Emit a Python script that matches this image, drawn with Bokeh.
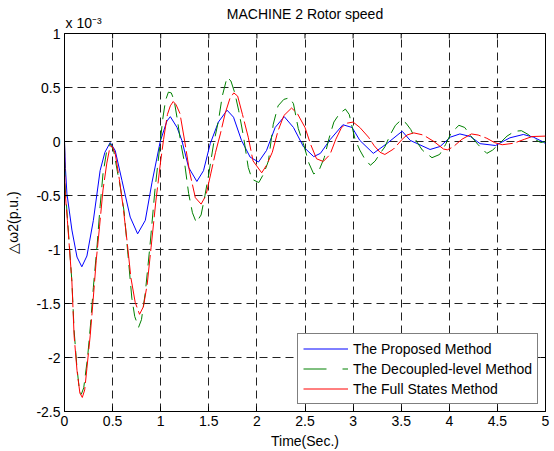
import math
from bokeh.plotting import figure
from bokeh.models import Range1d, FixedTicker, Legend, LegendItem, Title
from bokeh.embed import file_html
from bokeh.resources import INLINE

# ---- data (values in units of 1e-3 p.u.) ----
t_proposed = [0, 0.01, 0.025, 0.077, 0.13, 0.18, 0.233, 0.30, 0.37, 0.42, 0.475, 0.527, 0.597, 0.683,
              0.76, 0.84, 0.91, 0.995, 1.065, 1.10, 1.17, 1.22, 1.29, 1.376, 1.445, 1.515, 1.60, 1.69,
              1.757, 1.84, 1.93, 2.017, 2.10, 2.19, 2.284, 2.38, 2.485, 2.59, 2.66, 2.76, 2.894, 2.99,
              3.07, 3.21, 3.35, 3.51, 3.594, 3.80, 3.905, 4.01, 4.11, 4.22, 4.32, 4.48, 4.63, 4.77,
              4.875, 4.98, 5.0]
w_proposed = [0, -0.25, -0.48, -0.82, -1.07, -1.16, -1.06, -0.73, -0.27, -0.10, -0.01, -0.083, -0.36, -0.70,
              -0.855, -0.73, -0.377, 0.0, 0.19, 0.23, 0.13, 0.01, -0.24, -0.37, -0.27, -0.02, 0.18, 0.29,
              0.225, 0.01, -0.145, -0.19, -0.083, 0.13, 0.23, 0.13, -0.05, -0.14, -0.11, 0.016, 0.155, 0.13,
              0.01, -0.11, -0.02, 0.095, 0.01, -0.074, -0.046, 0.04, 0.07, 0.046, -0.02, -0.037, 0.034, 0.065,
              0.04, -0.006, -0.02]

t_decoupled = [0, 0.005, 0.03, 0.077, 0.10, 0.13, 0.155, 0.175, 0.20, 0.24, 0.27, 0.30, 0.34, 0.37, 0.40,
               0.44, 0.475, 0.51, 0.55, 0.58, 0.62, 0.66, 0.70, 0.73, 0.77, 0.80, 0.84, 0.89, 0.94, 0.99,
               1.02, 1.05, 1.08, 1.11, 1.14, 1.17, 1.21, 1.25, 1.29, 1.33, 1.37, 1.42, 1.46, 1.50, 1.55,
               1.60, 1.64, 1.69, 1.73, 1.77, 1.81, 1.86, 1.91, 1.95, 2.02, 2.07, 2.12, 2.17, 2.22, 2.28,
               2.34, 2.38, 2.43, 2.49, 2.54, 2.59, 2.64, 2.70, 2.75, 2.80, 2.86, 2.92, 2.96, 3.02, 3.07,
               3.12, 3.18, 3.23, 3.28, 3.33, 3.39, 3.44, 3.50, 3.55, 3.60, 3.66, 3.72, 3.82, 3.90, 3.96,
               4.02, 4.10, 4.16, 4.22, 4.30, 4.39, 4.45, 4.52, 4.60, 4.68, 4.75, 4.82, 4.88, 4.95, 5.0]
w_decoupled = [0, -0.4, -0.7, -1.3, -1.75, -2.1, -2.3, -2.34, -2.28, -2.0, -1.7, -1.35, -0.95, -0.6, -0.3,
               -0.08, -0.02, -0.08, -0.28, -0.42, -0.65, -1.05, -1.45, -1.62, -1.72, -1.65, -1.4, -0.95, -0.45, -0.05,
               0.2, 0.38, 0.457, 0.45, 0.38, 0.22, -0.02, -0.21, -0.48, -0.66, -0.75, -0.68, -0.5, -0.3, -0.02,
               0.19, 0.42, 0.595, 0.56, 0.45, 0.29, 0.05, -0.24, -0.35, -0.38, -0.3, -0.18, 0.16, 0.33, 0.39,
               0.405, 0.35, 0.12, -0.04, -0.2, -0.3, -0.28, -0.15, 0.03, 0.18, 0.26, 0.30, 0.25, 0.02, -0.08,
               -0.16, -0.22, -0.18, -0.11, -0.05, 0.07, 0.15, 0.2, 0.17, 0.11, 0.0, -0.08, -0.15, -0.12, -0.03,
               0.08, 0.15, 0.13, 0.056, -0.03, -0.11, -0.08, -0.02, 0.05, 0.095, 0.1, 0.065, 0.025, -0.01, 0.0]

t_full = [0, 0.005, 0.03, 0.077, 0.10, 0.13, 0.16, 0.185, 0.21, 0.233, 0.267, 0.30, 0.33, 0.364, 0.40,
          0.44, 0.475, 0.50, 0.527, 0.57, 0.61, 0.65, 0.69, 0.735, 0.78, 0.82, 0.86, 0.90, 0.95, 1.00,
          1.03, 1.07, 1.10, 1.13, 1.16, 1.20, 1.25, 1.30, 1.36, 1.42, 1.47, 1.52, 1.57, 1.62, 1.67,
          1.72, 1.76, 1.80, 1.85, 1.91, 1.96, 2.05, 2.10, 2.16, 2.22, 2.28, 2.36, 2.42, 2.50, 2.56,
          2.62, 2.69, 2.76, 2.82, 2.88, 2.94, 3.0, 3.07, 3.16, 3.22, 3.28, 3.33, 3.42, 3.51, 3.56,
          3.63, 3.73, 3.84, 3.94, 3.98, 4.04, 4.13, 4.23, 4.30, 4.39, 4.47, 4.55, 4.67, 4.78, 4.86, 5.0]
w_full = [0, -0.45, -0.73, -1.3, -1.8, -2.12, -2.33, -2.37, -2.3, -2.1, -1.8, -1.44, -1.1, -0.79, -0.45,
          -0.2, -0.04, -0.05, -0.11, -0.35, -0.61, -0.92, -1.26, -1.49, -1.6, -1.53, -1.32, -0.98, -0.55, -0.18,
          0.02, 0.25, 0.33, 0.37, 0.34, 0.26, 0.0, -0.28, -0.52, -0.58, -0.5, -0.3, -0.1, 0.07, 0.26,
          0.4, 0.45, 0.42, 0.25, 0.04, -0.18, -0.29, -0.22, -0.1, 0.1, 0.24, 0.31, 0.26, 0.13, -0.03,
          -0.16, -0.185, -0.12, 0.02, 0.13, 0.17, 0.18, 0.13, 0.04, -0.04, -0.1, -0.12, -0.07, 0.02, 0.06,
          0.08, 0.06, 0.0, -0.07, -0.077, -0.05, 0.02, 0.07, 0.06, 0.03, -0.01, -0.03, -0.016, 0.02, 0.046, 0.05]

x_ticks = [0, 0.5, 1, 1.5, 2, 2.5, 3, 3.5, 4, 4.5, 5]
x_tick_labels = ["0", "0.5", "1", "1.5", "2", "2.5", "3", "3.5", "4", "4.5", "5"]
y_ticks = [-2.5, -2, -1.5, -1, -0.5, 0, 0.5, 1]
y_tick_labels = ["-2.5", "-2", "-1.5", "-1", "-0.5", "0", "0.5", "1"]

series_names = ["The Proposed Method", "The Decoupled-level Method", "The Full States Method"]
title_text = "MACHINE 2 Rotor speed"
exponent_text = "x 10\u207b\u00b3"
x_label = "Time(Sec.)"
y_label = "\u25b3\u03c92(p.u.)"

FONT = "Liberation Sans"
FS = "14px"
X_MIN, X_MAX, Y_MIN, Y_MAX = 0, 5, -2.5, 1

p = figure(width=554, height=451, output_backend="svg", toolbar_location=None,
           x_range=Range1d(X_MIN, X_MAX), y_range=Range1d(Y_MIN, Y_MAX),
           min_border_left=64, min_border_right=9, min_border_top=33, min_border_bottom=40,
           title=None)
p.background_fill_color = "white"
p.border_fill_color = "white"
p.outline_line_color = "black"
p.outline_line_width = 1

# exponent row (closest to the frame), then the main title pulled down next to it
exp_title = Title(text=exponent_text, align="left", text_font=FONT, text_font_size=FS,
                  text_font_style="normal", text_color="black", standoff=6, offset=1)
p.add_layout(exp_title, "above")
main_title = Title(text=title_text, align="center", text_font=FONT, text_font_size=FS,
                   text_font_style="normal", text_color="black", standoff=-24)
p.add_layout(main_title, "above")

for ax in (p.xaxis[0], p.yaxis[0]):
    ax.major_label_text_font = FONT
    ax.major_label_text_font_size = FS
    ax.major_label_text_color = "black"
    ax.axis_label_text_font = FONT
    ax.axis_label_text_font_size = FS
    ax.axis_label_text_font_style = "normal"
    ax.axis_label_text_color = "black"
    ax.major_tick_in = 5
    ax.major_tick_out = 0
    ax.minor_tick_in = 0
    ax.minor_tick_out = 0
    ax.axis_line_color = "black"
    ax.major_tick_line_color = "black"
    ax.major_label_standoff = 4

p.xaxis[0].ticker = FixedTicker(ticks=x_ticks)
p.xaxis[0].major_label_overrides = dict(zip(x_ticks, x_tick_labels))
p.xaxis[0].axis_label = x_label
p.xaxis[0].axis_label_standoff = 4
p.yaxis[0].ticker = FixedTicker(ticks=y_ticks)
p.yaxis[0].major_label_overrides = dict(zip(y_ticks, y_tick_labels))
p.yaxis[0].axis_label = y_label
p.yaxis[0].axis_label_standoff = 12

p.xgrid.ticker = FixedTicker(ticks=x_ticks)
p.ygrid.ticker = FixedTicker(ticks=y_ticks)
p.grid.grid_line_color = "#222222"
p.grid.grid_line_dash = "8 5"
p.grid.grid_line_width = 1
p.grid.grid_line_alpha = 1

# inward tick marks on the top and right edges of the box (at the tick positions)
p.ray(x=x_ticks, y=[Y_MAX] * len(x_ticks), length=5, length_units="screen",
      angle=-math.pi / 2, line_color="black", line_width=1)
p.ray(x=[X_MAX] * len(y_ticks), y=y_ticks, length=5, length_units="screen",
      angle=math.pi, line_color="black", line_width=1)

r_prop = p.line(t_proposed, w_proposed, line_color="#0000ff", line_width=1)
r_dec = p.line(t_decoupled, w_decoupled, line_color="#008000", line_width=1, line_dash="14 7")
r_full = p.line(t_full, w_full, line_color="#ff0000", line_width=1, line_dash="30 4")

# legend-only copies of the series on a range that puts them out of view,
# so that the legend shows the line styles of the original legend
p.extra_x_ranges = {"legend_only": Range1d(100, 101)}
l_prop = p.line(t_proposed, w_proposed, line_color="#0000ff", line_width=1, x_range_name="legend_only")
l_dec = p.line(t_decoupled, w_decoupled, line_color="#008000", line_width=1, line_dash="23 16",
               x_range_name="legend_only")
l_full = p.line(t_full, w_full, line_color="#ff0000", line_width=1, x_range_name="legend_only")

legend = Legend(items=[LegendItem(label=series_names[0], renderers=[l_prop]),
                       LegendItem(label=series_names[1], renderers=[l_dec]),
                       LegendItem(label=series_names[2], renderers=[l_full])],
                location="bottom_right")
legend.label_text_font = FONT
legend.label_text_font_size = FS
legend.label_text_color = "black"
legend.glyph_width = 45
legend.glyph_height = 19
legend.label_height = 19
legend.label_standoff = 5
legend.spacing = 1
legend.padding = 5
legend.margin = 7
legend.border_line_color = "black"
legend.border_line_width = 1
legend.background_fill_color = "white"
legend.background_fill_alpha = 1
p.add_layout(legend, "center")

open("out.html", "w").write(file_html(p, INLINE))
